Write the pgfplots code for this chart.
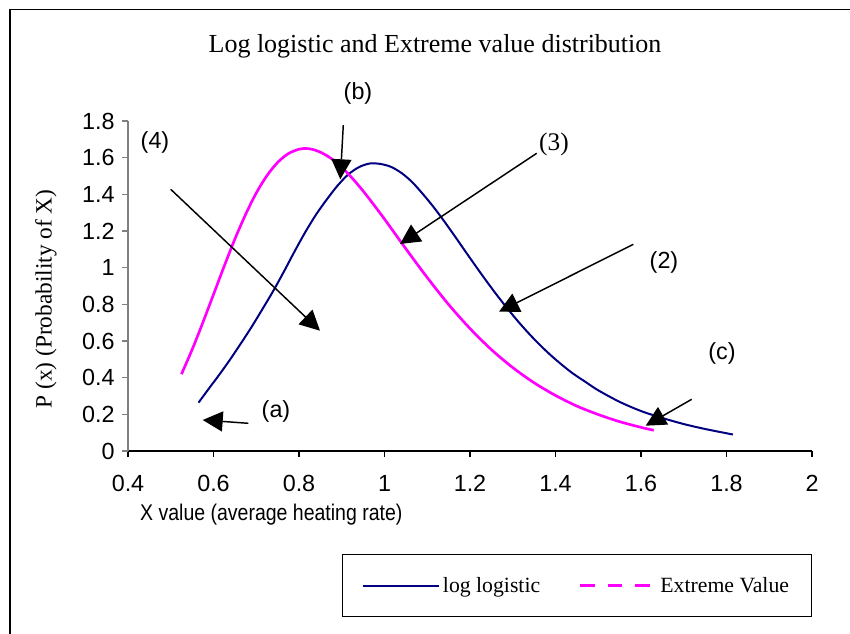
\documentclass[border=0pt]{standalone}
\usepackage{pgfplots}
\pgfplotsset{compat=1.18}
\usepackage{fontspec}
\setmainfont{Liberation Serif}
\setsansfont{Liberation Sans}
\usetikzlibrary{arrows.meta}
\definecolor{navyc}{HTML}{000080}
\definecolor{magc}{HTML}{FF00FF}
\begin{document}
\begin{tikzpicture}
\useasboundingbox (0pt,0pt) rectangle (637.5pt,-475.5pt);
\begin{axis}[
  at={(96pt,-338.25pt)}, anchor=south west,
  scale only axis, width=513pt, height=247.5pt,
  xmin=0.4, xmax=2, ymin=0, ymax=1.8,
  axis x line=bottom, axis y line=left,
  x axis line style={-, black, line width=0.8pt},
  y axis line style={-, gray, line width=0.8pt},
  xtick={0.4,0.6,0.8,1,1.2,1.4,1.6,1.8,2},
  xticklabels={0.4,0.6,0.8,1,1.2,1.4,1.6,1.8,2},
  ytick={0,0.2,0.4,0.6,0.8,1,1.2,1.4,1.6,1.8},
  yticklabels={0,0.2,0.4,0.6,0.8,1,1.2,1.4,1.6,1.8},
  tick align=outside, major tick length=4.5pt,
  x tick style={black, line width=0.8pt},
  y tick style={gray, line width=0.8pt},
  tick label style={font=\sffamily\fontsize{17.5}{19}\selectfont},
  xticklabel style={yshift=-10pt},
  yticklabel style={xshift=-2pt},
  /pgf/number format/assume math mode=true,
  legend columns=2,
  legend cell align=left,
  legend image code/.code={\draw[#1] (0pt,0pt) -- (57pt,0pt);},
  legend style={at={(0.6564,-0.4076)}, anchor=center, draw=black, line width=0.8pt,
    inner xsep=15pt, inner ysep=15pt, font=\fontsize{16.3}{18}\selectfont,
    /tikz/every even column/.append style={column sep=27pt}},
]
\addplot[navyc, line width=1.5pt, smooth] coordinates {
(0.565,0.264) (0.59,0.343) (0.615,0.421) (0.64,0.503) (0.665,0.590)
(0.69,0.680) (0.715,0.776) (0.74,0.874) (0.765,0.980) (0.79,1.090)
(0.815,1.195) (0.84,1.290) (0.865,1.372) (0.89,1.447) (0.915,1.508)
(0.94,1.548) (0.965,1.568) (0.99,1.566) (1.015,1.550) (1.04,1.516)
(1.065,1.466) (1.09,1.401) (1.115,1.330) (1.14,1.252) (1.165,1.170)
(1.19,1.086) (1.215,1.003) (1.24,0.922) (1.265,0.844) (1.29,0.770)
(1.315,0.700) (1.34,0.635) (1.365,0.575) (1.39,0.520) (1.415,0.470)
(1.44,0.424) (1.47,0.377) (1.50,0.331) (1.55,0.268) (1.60,0.218)
(1.65,0.180) (1.70,0.147) (1.75,0.120) (1.815,0.090)
};
\addlegendentry{log logistic}
\addplot[magc, line width=2pt, smooth, forget plot] coordinates {
(0.525,0.419) (0.55,0.553) (0.575,0.700) (0.60,0.854) (0.625,1.008)
(0.65,1.156) (0.675,1.290) (0.70,1.407) (0.725,1.502) (0.75,1.574)
(0.775,1.622) (0.80,1.646) (0.815,1.650) (0.83,1.646) (0.85,1.630)
(0.875,1.596) (0.90,1.547) (0.925,1.487) (0.95,1.418) (0.975,1.343)
(1.00,1.265) (1.05,1.103) (1.10,0.946) (1.15,0.799) (1.20,0.668)
(1.25,0.553) (1.30,0.455) (1.35,0.372) (1.40,0.303) (1.45,0.245)
(1.50,0.199) (1.55,0.160) (1.60,0.129) (1.63,0.113)
};
\addlegendimage{magc, line width=2.2pt, dash pattern=on 11pt off 9.5pt}
\addlegendentry{Extreme Value}
\end{axis}
\begin{scope}[x=0.75pt, y=-0.75pt]
\draw[line width=1.1pt] (10,634) -- (10,9.5) -- (850,9.5);
\node[font=\fontsize{19.5}{22}\selectfont] at (435,46) {Log logistic and Extreme value distribution};
\node[rotate=90, font=\fontsize{17.5}{20}\selectfont] at (46,299) {P (x) (Probability of X)};
\node[anchor=west, inner sep=0pt, xscale=0.86, font=\sffamily\fontsize{17}{19}\selectfont] at (140,515) {X value (average heating rate)};
\begin{scope}[font=\sffamily\fontsize{17.5}{19}\selectfont]
\node at (358,93) {(b)};
\node at (155,142) {(4)};
\node at (664,262) {(2)};
\node at (722,353) {(c)};
\node at (276,411) {(a)};
\end{scope}
\node[font=\fontsize{19}{21}\selectfont] at (554,144) {(3)};
\begin{scope}[line width=1.1pt, -{Triangle[length=15pt,width=15pt]}]
\draw (343.3,125) -- (340.3,179.3);
\draw (536.7,153.3) -- (400,244);
\draw (170.7,189.3) -- (320,330.7);
\draw (633.3,244.3) -- (499,311.7);
\draw (691.7,399.3) -- (645.7,425.7);
\draw (248.3,423.3) -- (202.7,420);
\end{scope}
\end{scope}
\end{tikzpicture}
\end{document}
